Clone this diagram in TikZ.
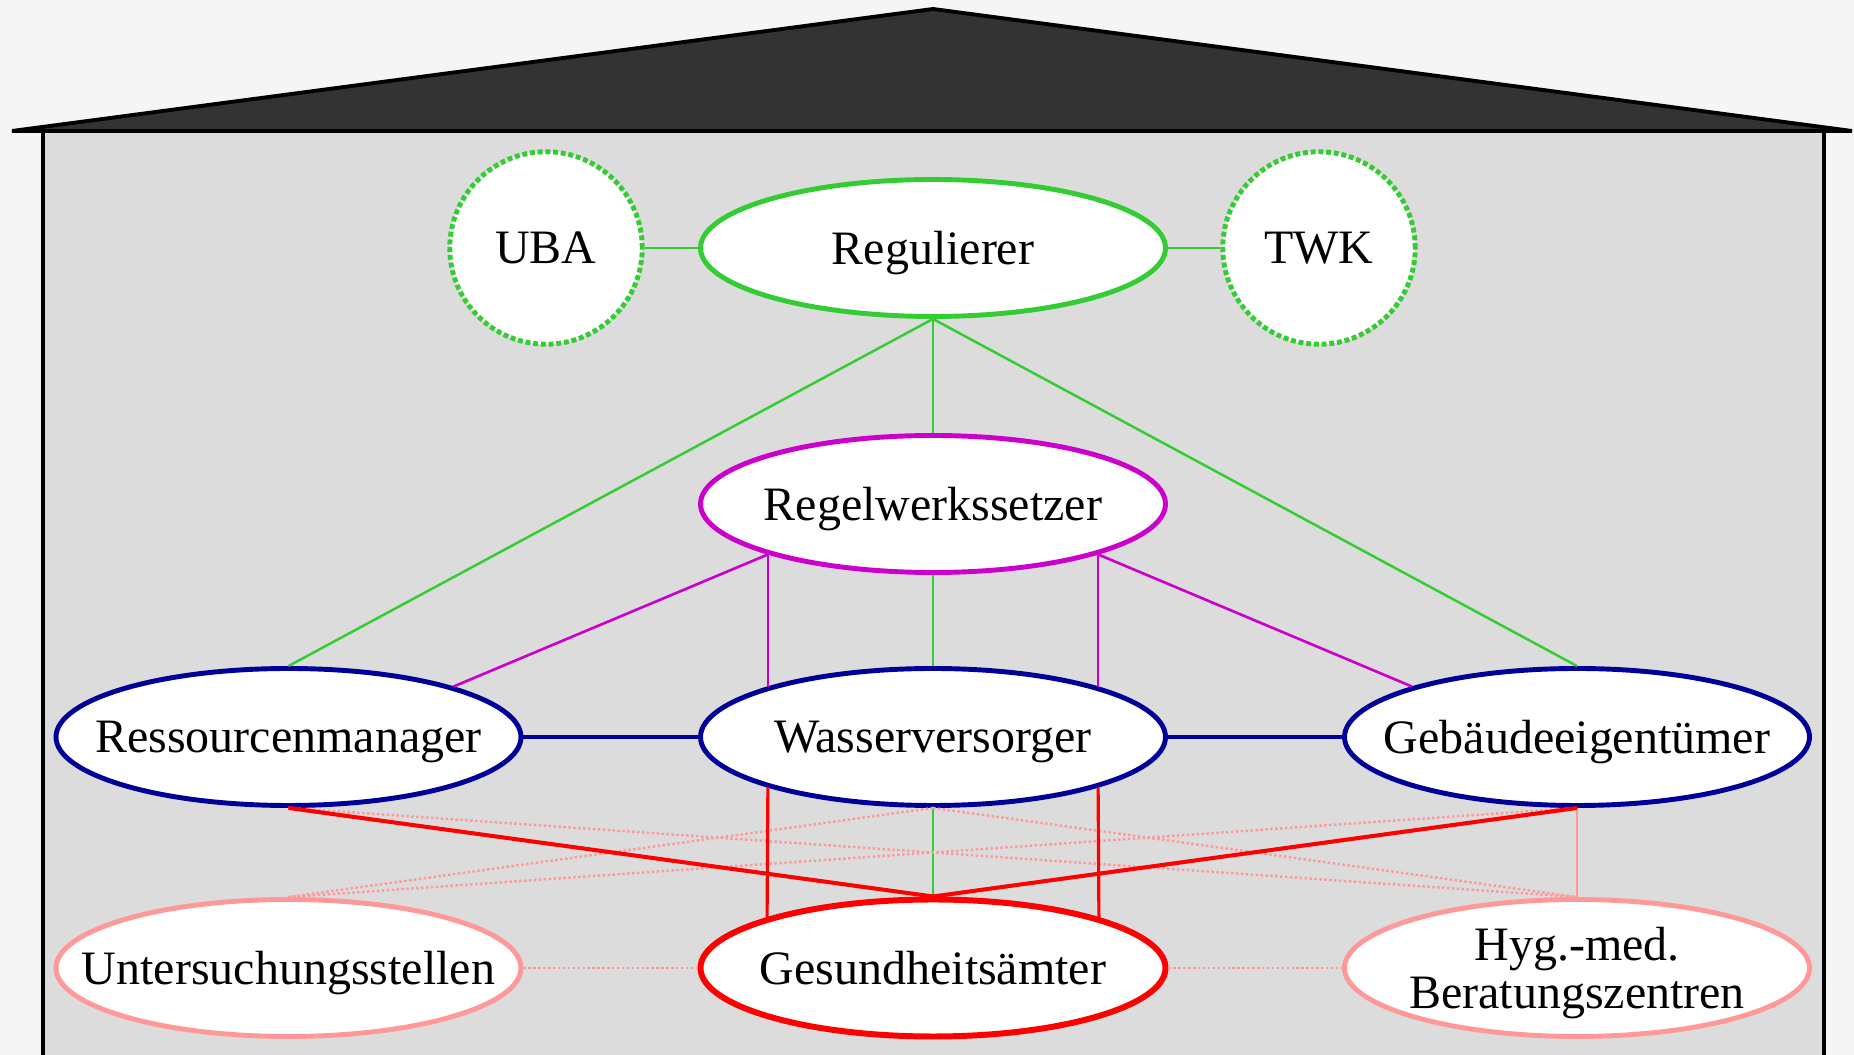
\documentclass[tikz,border=0pt]{standalone}
\usepackage{fontspec}
\setmainfont{Liberation Serif}
\usetikzlibrary{shapes.geometric}
\definecolor{outside}{HTML}{F5F5F5}
\definecolor{inside}{HTML}{DCDCDC}
\definecolor{roofgray}{HTML}{333333}
\definecolor{regulgreen}{HTML}{33CC33}
\definecolor{rulemagenta}{HTML}{CC00CC}
\definecolor{supplyblue}{HTML}{000099}
\definecolor{healthred}{HTML}{FF0000}
\definecolor{labpink}{HTML}{FF9999}
\begin{document}
\begin{tikzpicture}[
    every node/.style = {font=\fontsize{27.3}{27.3}\selectfont},
    party/.style = {ellipse, draw, fill=white, line width=2.8pt,
        minimum width=9.3cm, minimum height=2.74cm, text depth=0pt,
        inner xsep=-30pt, inner ysep=-12pt, align=center},
    advisor/.style = {circle, draw=regulgreen, fill=white, line width=2.8pt,
        dash pattern=on 2.8pt off 1.6pt, minimum size=3.85cm, inner sep=0pt},
    greenline/.style = {draw=regulgreen, line width=1.4pt},
    magline/.style = {draw=rulemagenta, line width=1.5pt},
    blueline/.style = {draw=supplyblue, line width=1.8pt},
    redthick/.style = {draw=healthred, line width=2.3pt},
    redline/.style = {draw=healthred, line width=1.8pt},
    pinkdot/.style = {draw=labpink, line width=1.4pt, dash pattern=on 1.4pt off 1.4pt},
    pinkline/.style = {draw=labpink, line width=1pt}
]
    \useasboundingbox (0, 0) rectangle (37.08, 21.1);
    \fill[outside] (0, 0) rectangle (37.08, 21.1);
    \draw[fill=inside, line width=1.8pt] (0.86, -1) rectangle (36.48, 18.48);
    \draw[fill=roofgray, line width=2.2pt, line join=miter] (0.24, 18.48) -- (18.66, 20.92) -- (37.04, 18.48) -- cycle;

    \node[party, draw=regulgreen] (reg) at (18.66, 16.14) {Regulierer};
    \node[advisor] (uba) at (10.92, 16.14) {UBA};
    \node[advisor] (twk) at (26.38, 16.14) {TWK};
    \node[party, draw=rulemagenta] (rws) at (18.66, 11.02) {Regelwerkssetzer};
    \node[party, draw=supplyblue] (rm) at (5.77, 6.36) {Ressourcenmanager};
    \node[party, draw=supplyblue] (wv) at (18.66, 6.36) {Wasserversorger};
    \node[party, draw=supplyblue] (ge) at (31.54, 6.36) {Gebäudeeigentümer};
    \node[party, draw=labpink] (us) at (5.77, 1.74) {Untersuchungsstellen};
    \node[party, draw=healthred, line width=3.4pt] (ga) at (18.66, 1.74) {Gesundheitsämter};
    \node[party, draw=labpink] (hmb) at (31.54, 1.74) {Hyg.-med.\\Beratungszentren};

    \draw[greenline] (uba) -- (reg);
    \draw[greenline] (reg) -- (twk);
    \draw[greenline] (reg.south) -- (rm.north);
    \draw[greenline] (reg.south) -- (rws.north);
    \draw[greenline] (reg.south) -- (ge.north);
    \draw[greenline] (rws.south) -- (wv.north);
    \draw[greenline] (wv.south) -- (ga.north);

    \draw[magline] (rws.197) -- (rm.17);
    \draw[magline] (rws.197) -- (wv.163);
    \draw[magline] (rws.343) -- (wv.17);
    \draw[magline] (rws.343) -- (ge.163);

    \draw[blueline] (rm) -- (wv);
    \draw[blueline] (wv) -- (ge);

    \draw[pinkdot] (rm.south) -- (hmb.north);
    \draw[pinkdot] (wv.south) -- (hmb.north);
    \draw[pinkdot] (wv.south) -- (us.north);
    \draw[pinkdot] (ge.south) -- (us.north);
    \draw[pinkdot] (us) -- (ga);
    \draw[pinkdot] (ga) -- (hmb);
    \draw[pinkline] (ge.south) -- (hmb.north);

    \draw[redthick] (rm.south) -- (ga.north);
    \draw[redthick] (ge.south) -- (ga.north);
    \draw[redline] (wv.197) -- (ga.163);
    \draw[redline] (wv.343) -- (ga.17);
\end{tikzpicture}
\end{document}
